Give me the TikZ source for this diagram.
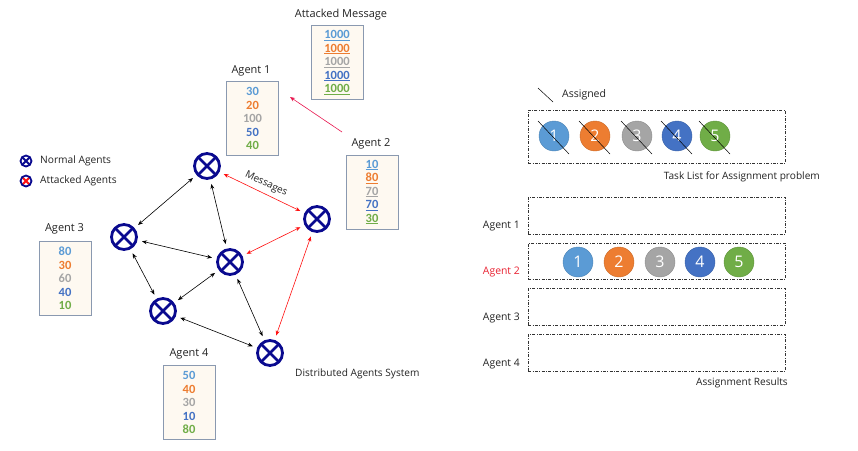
\documentclass[tikz,border=0pt]{standalone}
\usepackage{fontspec}
\setmainfont{Open Sans}
\newfontfamily\numfont{Carlito}
\usetikzlibrary{arrows.meta}
\definecolor{cA}{HTML}{5B9BD5}
\definecolor{cB}{HTML}{ED7D31}
\definecolor{cC}{HTML}{A5A5A5}
\definecolor{cD}{HTML}{4472C4}
\definecolor{cE}{HTML}{70AD47}
\definecolor{navyc}{HTML}{0A0A8F}
\definecolor{boxfill}{HTML}{FEF9F1}
\definecolor{boxline}{HTML}{8A99B0}
\definecolor{redc}{HTML}{FF1010}
\definecolor{pinkred}{HTML}{E8174F}
\definecolor{labred}{HTML}{E82030}
\definecolor{txt}{HTML}{222222}
\newcommand\ulc[2]{\textcolor{#1}{\underline{#2}}}
\tikzset{
  agent/.style={circle, draw=navyc, line width=2.8pt, minimum size=25pt, inner sep=0pt, outer sep=6pt,
    path picture={\draw[navyc, line width=2.8pt]
      (path picture bounding box.north west) -- (path picture bounding box.south east)
      (path picture bounding box.north east) -- (path picture bounding box.south west);}},
  legagent/.style={circle, draw=navyc, line width=1.8pt, minimum size=11pt, inner sep=0pt,
    path picture={\draw[#1, line width=1.8pt]
      (path picture bounding box.north west) -- (path picture bounding box.south east)
      (path picture bounding box.north east) -- (path picture bounding box.south west);}},
  valbox/.style={draw=boxline, fill=boxfill, line width=0.6pt, minimum width=52pt, minimum height=74pt,
    inner sep=0pt, align=center, font=\numfont\bfseries\fontsize{12.5}{13.5}\selectfont},
  title/.style={text=txt, font=\fontsize{11}{12}\selectfont, inner sep=0pt},
  small/.style={text=txt, font=\fontsize{10.1}{11}\selectfont, inner sep=0pt},
  link/.style={{Stealth[length=5pt,width=4pt]}-{Stealth[length=5pt,width=4pt]}, line width=0.6pt, black},
  redlink/.style={{Stealth[length=5pt,width=4pt]}-{Stealth[length=5pt,width=4pt]}, line width=0.6pt, redc},
  ddbox/.style={draw=black!80, line width=0.5pt, dash pattern=on 3pt off 1.5pt on 0.8pt off 1.5pt, inner sep=0pt},
  taskc/.style={circle, fill=#1, draw=#1!85!black, line width=0.4pt, minimum size=30pt, inner sep=0pt,
    text=white, font=\fontsize{16}{16}\selectfont},
  slash/.style={black, line width=0.5pt},
}
\begin{document}
\begin{tikzpicture}[x=1pt,y=-1pt]
\useasboundingbox (0,0) rectangle (858,450);
% value boxes
\node[title] (amt) at (341,15) {Attacked Message};
\node[valbox] (amb) at (337,62.5) {\ulc{cA}{1000}\\ \ulc{cB}{1000}\\ \ulc{cC}{1000}\\ \ulc{cD}{1000}\\ \ulc{cE}{1000}};
\node[title] (a1t) at (251,71) {Agent 1};
\node[valbox] (a1b) at (252.5,118.5) {\textcolor{cA}{30}\\ \textcolor{cB}{20}\\ \textcolor{cC}{100}\\ \textcolor{cD}{50}\\ \textcolor{cE}{40}};
\node[title] (a2t) at (371,144) {Agent 2};
\node[valbox] (a2b) at (372,192) {\ulc{cA}{10}\\ \ulc{cB}{80}\\ \ulc{cC}{70}\\ \ulc{cD}{70}\\ \ulc{cE}{30}};
\node[title] (a3t) at (64.5,229) {Agent 3};
\node[valbox] (a3b) at (65,278.5) {\textcolor{cA}{80}\\ \textcolor{cB}{30}\\ \textcolor{cC}{60}\\ \textcolor{cD}{40}\\ \textcolor{cE}{10}};
\node[title] (a4t) at (189,354) {Agent 4};
\node[valbox] (a4b) at (189,402.5) {\textcolor{cA}{50}\\ \textcolor{cB}{40}\\ \textcolor{cC}{30}\\ \textcolor{cD}{10}\\ \textcolor{cE}{80}};
% legend
\node[legagent=navyc] (lg1) at (26,161) {};
\node[small, anchor=west, font=\fontsize{10.2}{12}\selectfont] (lg1t) at (40,161) {Normal Agents};
\node[legagent=redc] (lg2) at (26,181) {};
\node[small, anchor=west, font=\fontsize{10.2}{12}\selectfont] (lg2t) at (40,181) {Attacked Agents};
% agents
\node[agent] (n1) at (207,166) {};
\node[agent] (n2) at (317,219) {};
\node[agent] (n3) at (124,237) {};
\node[agent] (n5) at (230,262) {};
\node[agent] (n4) at (163,311) {};
\node[agent] (n6) at (270,353) {};
\draw[link] (n1) -- (n3);
\draw[link] (n1) -- (n5);
\draw[link] (n3) -- (n5);
\draw[link] (n3) -- (n4);
\draw[link] (n5) -- (n4);
\draw[link] (n5) -- (n6);
\draw[link] (n4) -- (n6);
\draw[redlink] (n1) -- node[sloped, above=1pt, text=txt, font=\fontsize{10}{12}\selectfont] {Messages} (n2);
\draw[redlink] (n5) -- (n2);
\draw[redlink] (n2) -- (n6);
\coordinate (atks) at (342,132);
\coordinate (atke) at (290,97);
\draw[pinkred, line width=0.6pt, -{Stealth[length=5pt,width=4pt]}] (atks) -- (atke);
\node[small, anchor=west] (das) at (295,374) {Distributed Agents System};
% right side
\coordinate (asgA) at (538,88);
\coordinate (asgB) at (553,102);
\draw[slash] (asgA) -- (asgB);
\node[small, anchor=west, font=\fontsize{10.5}{12}\selectfont] (asg) at (562,95) {Assigned};
\node[ddbox, minimum width=257pt, minimum height=53pt] (tl) at (656.5,136.5) {};
\foreach \i/\x/\c in {1/554/cA,2/595/cB,3/637/cC,4/677/cD,5/715/cE}{
  \node[taskc=\c] (t\i) at (\x,136) {\i};
  \draw[slash] (t\i.center) ++(-16,-15) -- ++(31,33);
}
\node[small, anchor=east] (tlt) at (820,177) {Task List for Assignment problem};
\node[ddbox, minimum width=257pt, minimum height=37pt] (r1) at (656.5,215.5) {};
\node[ddbox, minimum width=257pt, minimum height=36pt] (r2) at (656.5,261) {};
\node[ddbox, minimum width=257pt, minimum height=37pt] (r3) at (656.5,307) {};
\node[ddbox, minimum width=257pt, minimum height=37pt] (r4) at (656.5,352.5) {};
\node[title, anchor=east, font=\fontsize{10.4}{12}\selectfont] (r1l) at (520,226) {Agent 1};
\node[title, anchor=east, font=\fontsize{10.4}{12}\selectfont, text=labred] (r2l) at (520,272) {Agent 2};
\node[title, anchor=east, font=\fontsize{10.4}{12}\selectfont] (r3l) at (520,318) {Agent 3};
\node[title, anchor=east, font=\fontsize{10.4}{12}\selectfont] (r4l) at (520,364) {Agent 4};
\foreach \i/\x/\c in {1/578/cA,2/619/cB,3/660/cC,4/700/cD,5/739/cE}{
  \node[taskc=\c] (s\i) at (\x,262) {\i};
}
\node[small, anchor=east] (art) at (788,383) {Assignment Results};
\end{tikzpicture}
\end{document}
